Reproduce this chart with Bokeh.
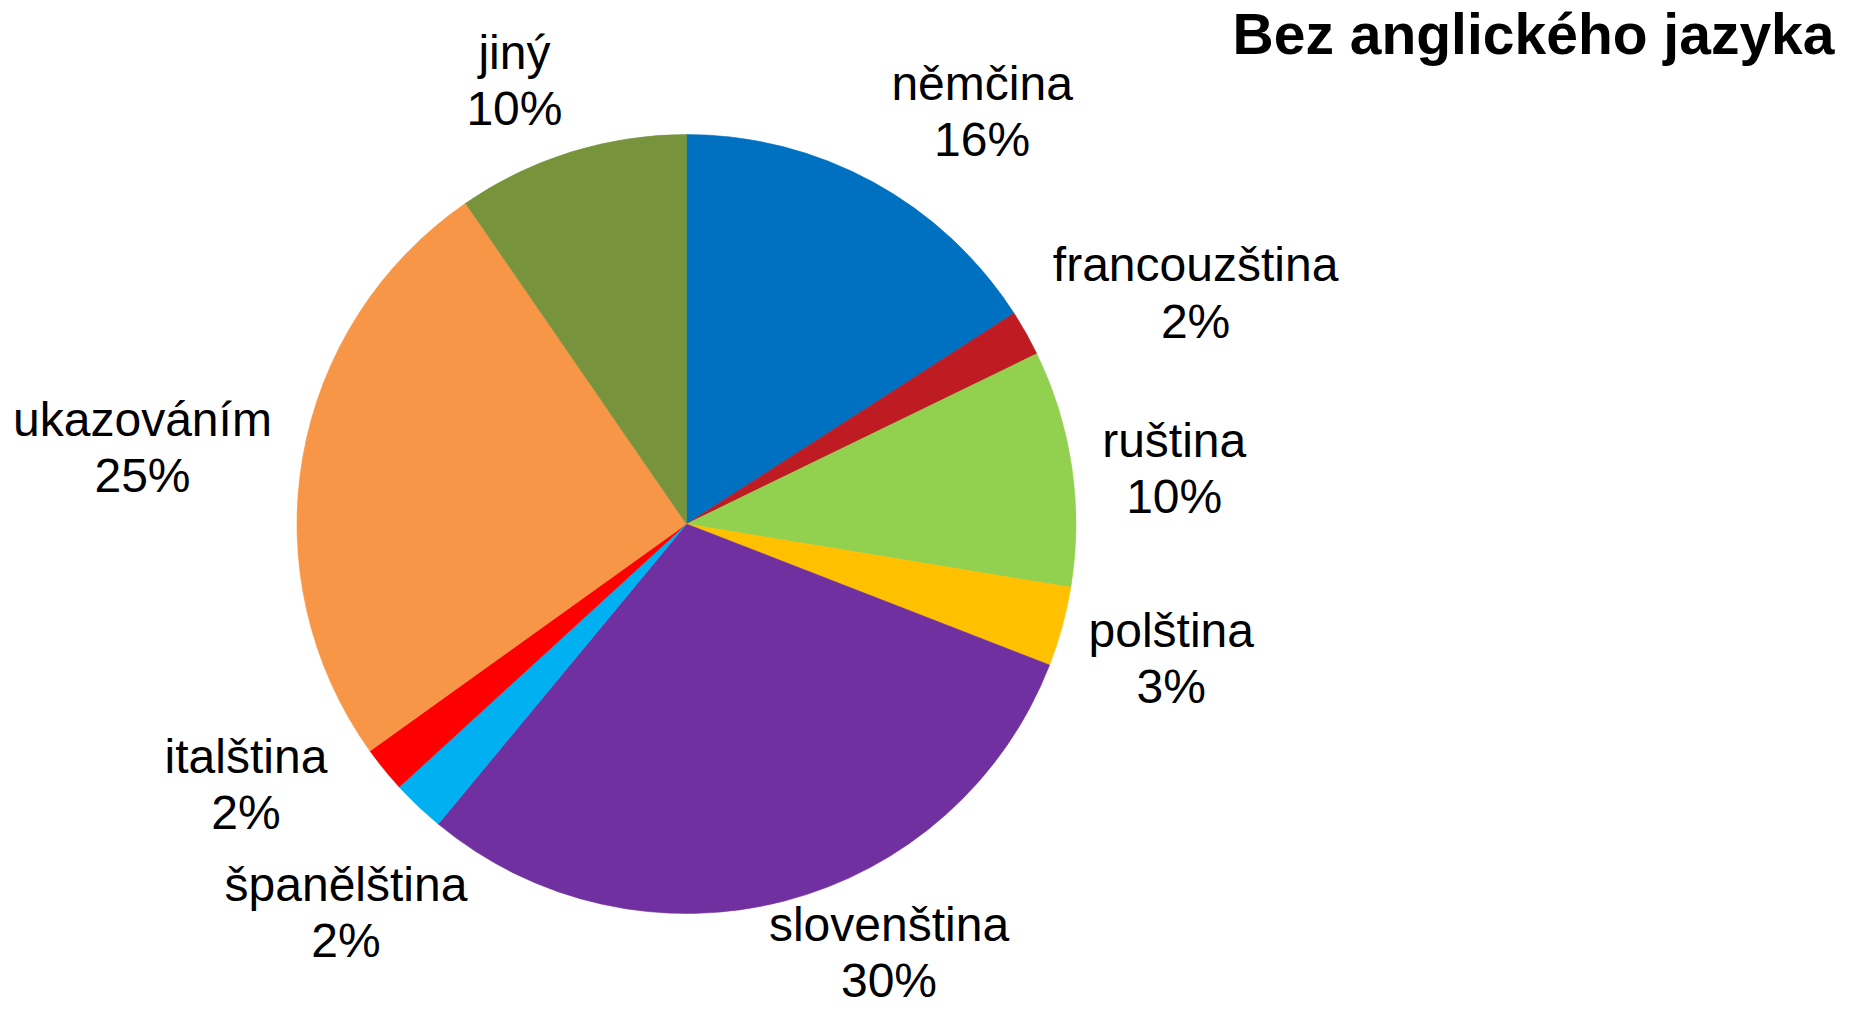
import math
from bokeh.plotting import figure
from bokeh.models import ColumnDataSource, Range1d
from bokeh.core.properties import value
from bokeh.embed import file_html
from bokeh.resources import INLINE

# ---- data ----
categories = ["němčina", "francouzština", "ruština", "polština", "slovenština",
              "španělština", "italština", "ukazováním", "jiný"]
shares = [15.9, 1.9, 9.8, 3.3, 30.1, 2.2, 1.9, 25.3, 9.6]
colors = ["#0070C0", "#BE1B22", "#92D050", "#FFC000", "#7030A0",
          "#00B0F0", "#FF0000", "#F79646", "#77933C"]
title_text = "Bez anglického jazyka"

# ---- layout / style ----
W, H = 1838, 1006
CX, CY, R = 686, 482.5, 389.5
FONT = "Liberation Sans"
LABEL_PX = 48
LINE_H = 1.06
GAP = 25
# label nudges (px) relative to computed outside-end position
nudges = [(12, -5), (8, -25), (7, -20), (4, 3), (39, 27),
          (64, -34), (-39, 55), (-9, -13), (-21, -6)]
# approximate Arial advance widths for label box estimation
ADV = {'a': .556, 'á': .556, 'b': .556, 'c': .5, 'č': .5, 'e': .556, 'ě': .556, 'f': .278,
       'i': .222, 'í': .278, 'j': .222, 'k': .5, 'l': .222, 'm': .833, 'n': .556, 'o': .556,
       'p': .556, 'r': .333, 's': .5, 'š': .5, 't': .278, 'u': .556, 'v': .5, 'y': .5,
       'ý': .5, 'z': .5, '%': .889}

def text_w(s):
    return sum(ADV.get(ch, .556) for ch in s) * 47

total = sum(shares)
starts, ends, mids = [], [], []
cum = 0.0
for v in shares:
    a0 = math.pi / 2 - 2 * math.pi * cum / total
    cum += v
    a1 = math.pi / 2 - 2 * math.pi * cum / total
    starts.append(a0)
    ends.append(a1)
    mids.append((a0 + a1) / 2)

src = ColumnDataSource(dict(start=starts, end=ends, color=colors, cat=categories))

p = figure(width=W, height=H, output_backend="svg", toolbar_location=None,
           x_range=Range1d(0, W), y_range=Range1d(0, H), min_border=0)
p.axis.visible = False
p.grid.visible = False
p.outline_line_color = None
p.background_fill_color = "white"

p.wedge(x=CX, y=CY, radius=R, start_angle="start", end_angle="end",
        direction="clock", fill_color="color", line_color="color", line_width=0.6,
        source=src)

lx, ly, ltxt = [], [], []
for cat, v, m, (nx, ny) in zip(categories, shares, mids, nudges):
    pct = int(math.floor(v / total * 100 + 0.5 + 1e-9))
    lines = [cat, f"{pct}%"]
    w = max(text_w(s) for s in lines)
    h = 47 * 1.15 * len(lines)
    ux, uy = math.cos(m), math.sin(m)
    sx = max(-1, min(1, ux * 2))
    sy = max(-1, min(1, uy * 2))
    x = CX + (R + GAP) * ux + w / 2 * sx + nx
    y = CY + (R + GAP) * uy + h / 2 * sy + ny
    lx.append(x)
    ly.append(y)
    ltxt.append("\n".join(lines))

p.text(x=lx, y=ly, text=ltxt, text_font=value(FONT), text_font_size=f"{LABEL_PX}px",
       text_align="center", text_baseline="middle", text_line_height=LINE_H,
       text_color="black")

p.text(x=[1834], y=[973], text=[title_text], text_font=value(FONT),
       text_font_size="57px", text_font_style="bold", text_align="right",
       text_baseline="alphabetic", text_color="black")

open("out.html", "w").write(file_html(p, INLINE))
